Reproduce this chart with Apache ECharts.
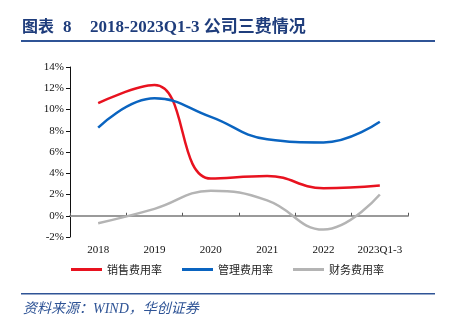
<!DOCTYPE html>
<html>
<head>
<meta charset="utf-8">
<script src="https://cdn.jsdelivr.net/npm/echarts@6/dist/echarts.min.js"></script>
<style>
html,body{margin:0;padding:0;background:#fff;}
#c{width:455px;height:327px;}
</style>
</head>
<body>
<div id="c"></div>
<script>
var categories = ['2018', '2019', '2020', '2021', '2022', '2023Q1-3'];
var salesRate = [10.6, 12.3, 3.5, 3.75, 2.6, 2.85];
var adminRate = [8.3, 11.05, 9.3, 7.2, 6.9, 8.85];
var financeRate = [-0.7, 0.65, 2.35, 1.45, -1.3, 2.0];
var seriesNames = ['销售费用率', '管理费用率', '财务费用率'];
var yTicks = [-2, 0, 2, 4, 6, 8, 10, 12, 14];

var chart = echarts.init(document.getElementById('c'));
var serif = '"Liberation Serif","Times New Roman","Noto Sans CJK SC",serif';
var cjk = '"Noto Sans CJK SC","Liberation Serif",sans-serif';
var navy = '#1f3d7c';
function mk(name, data, color) {
  return {
    name: name, type: 'line', data: data, smooth: 0.45,
    symbol: 'none', lineStyle: {width: 2.5, color: color}, itemStyle: {color: color}
  };
}
chart.setOption({
  animation: false,
  grid: {left: 70, top: 67, right: 47, bottom: 90},
  legend: {
    top: 259, left: 'center',
    itemWidth: 31, itemHeight: 3, itemGap: 20,
    icon: 'rect',
    textStyle: {fontFamily: cjk, fontSize: 11, color: '#222'},
    data: seriesNames
  },
  graphic: [
    {type: 'text', left: 22, top: 18, style: {text: '图表', fontFamily: cjk, fontWeight: 'bold', fontSize: 16, fill: navy}},
    {type: 'text', left: 63, top: 19, style: {text: '8', fontFamily: serif, fontWeight: 'bold', fontSize: 17, fill: navy}},
    {type: 'text', left: 90, top: 19, style: {text: '2018-2023Q1-3 公司三费情况', fontFamily: serif, fontWeight: 'bold', fontSize: 17, fill: navy}},
    {type: 'rect', shape: {x: 21, y: 40, width: 414, height: 2}, style: {fill: '#2f5496'}},
    {type: 'rect', shape: {x: 21, y: 293, width: 414, height: 1.5}, style: {fill: '#2f5496'}},
    {type: 'text', left: 23, top: 302, style: {text: '资料来源：WIND，华创证券', fontFamily: serif, fontStyle: 'italic', fontSize: 14, fill: '#2f5496'}}
  ],
  xAxis: {
    type: 'category', data: categories, boundaryGap: true,
    axisLine: {onZero: true, lineStyle: {color: '#9a9a9a', width: 2}},
    axisTick: {show: true, inside: true, length: 3, interval: 0, lineStyle: {color: '#555', width: 1}},
    axisLabel: {interval: 0, fontFamily: serif, fontSize: 11, color: '#111', margin: 8}
  },
  yAxis: {
    type: 'value', min: -2, max: 14, interval: 2,
    axisLine: {show: true, lineStyle: {color: '#111', width: 1}},
    axisTick: {show: true, length: 4, lineStyle: {color: '#111'}},
    splitLine: {show: false},
    axisLabel: {fontFamily: serif, fontSize: 11, color: '#111', margin: 6,
      formatter: function (v) { return yTicks.indexOf(v) >= 0 ? v + '%' : ''; }}
  },
  series: [
    mk(seriesNames[0], salesRate, '#e8121f'),
    mk(seriesNames[1], adminRate, '#0a64c0'),
    mk(seriesNames[2], financeRate, '#b4b4b4')
  ]
});
</script>
</body>
</html>
